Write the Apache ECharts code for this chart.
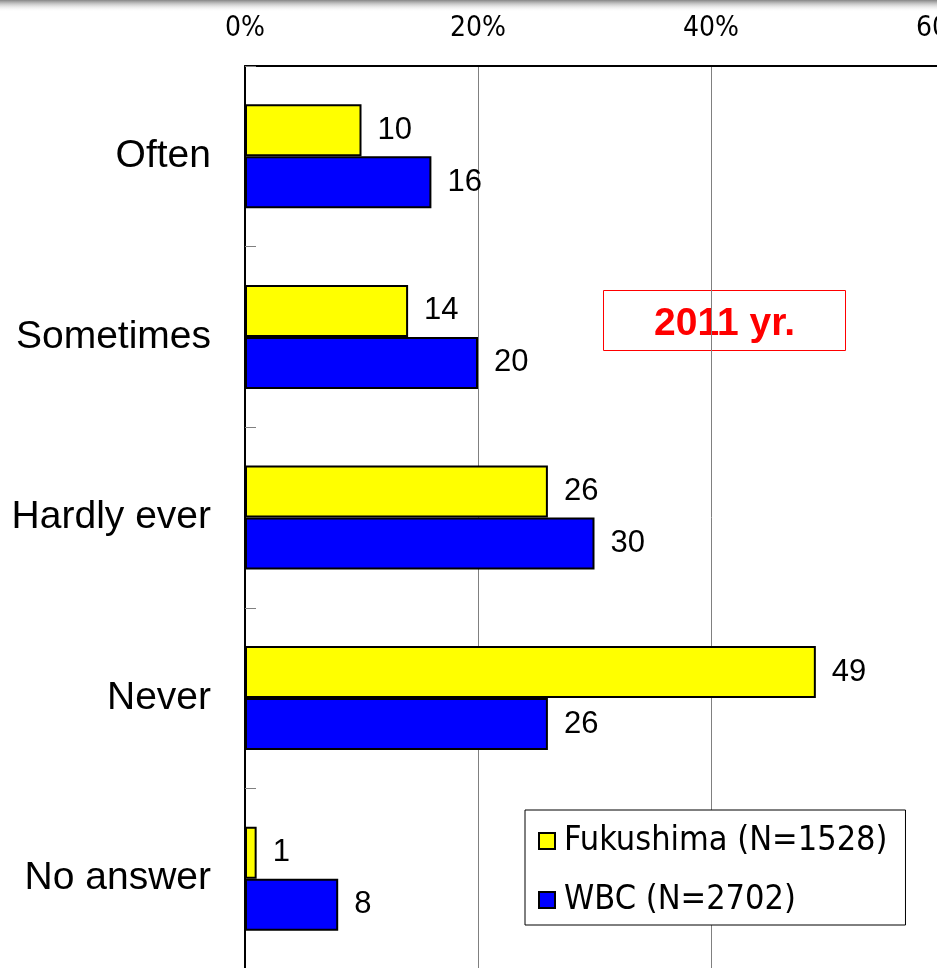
<!DOCTYPE html>
<html>
<head>
<meta charset="utf-8">
<script src="https://cdn.jsdelivr.net/npm/echarts@6/dist/echarts.min.js"></script>
<style>
html,body{margin:0;padding:0;background:#fff;}
#chart{width:937px;height:968px;}
</style>
</head>
<body>
<div id="chart"></div>
<script>
const categories = ['Often', 'Sometimes', 'Hardly ever', 'Never', 'No answer'];
const fukushimaValues = [10, 14, 26, 49, 1];
const wbcValues = [16, 20, 30, 26, 8];
const seriesNames = ['Fukushima (N=1528)', 'WBC (N=2702)'];
const xTicks = [0, 20, 40, 60];
const yearLabel = '2011 yr.';

const sans = "'Liberation Sans', Arial, sans-serif";
const narrow = "'Liberation Sans Narrow', 'Arial Narrow', 'DejaVu Sans Condensed', sans-serif";

const chart = echarts.init(document.getElementById('chart'), null, {renderer: 'canvas'});
const option = {
  backgroundColor: '#fff',
  animation: false,
  grid: {left: 245, top: 66, width: 699, height: 903, containLabel: false, outerBoundsMode: 'none'},
  xAxis: {
    type: 'value', position: 'top',
    min: xTicks[0], max: xTicks[xTicks.length - 1], interval: 20,
    axisLine: {show: true, lineStyle: {color: '#000', width: 2}},
    axisTick: {show: false},
    axisLabel: {formatter: '{value}%', fontFamily: narrow, fontSize: 28, color: '#000', margin: 23},
    splitLine: {show: true, lineStyle: {color: '#808080', width: 1}}
  },
  yAxis: {
    type: 'category', inverse: true, data: categories,
    axisLine: {show: true, lineStyle: {color: '#000', width: 2}},
    axisTick: {show: true, inside: true, length: 11, lineStyle: {color: '#808080', width: 1}},
    axisLabel: {fontFamily: sans, fontSize: 39, color: '#000', margin: 34, padding: [6, 0, 0, 0]}
  },
  legend: {
    orient: 'vertical', left: 525, top: 810,
    padding: [14, 18, 8, 13], itemGap: 25,
    itemWidth: 16, itemHeight: 16,
    backgroundColor: '#fff', borderColor: '#000', borderWidth: 1, borderRadius: 0,
    textStyle: {fontFamily: narrow, fontSize: 34, color: '#000', padding: [0, 0, 0, 4]},
    data: seriesNames.map(n => ({name: n, icon: 'rect'}))
  },
  series: [
    {
      name: seriesNames[0], type: 'bar', data: fukushimaValues,
      barWidth: 52, barGap: '0%',
      itemStyle: {color: '#ffff00', borderColor: '#000', borderWidth: 2},
      label: {show: true, position: 'right', distance: 16, fontFamily: sans, fontSize: 31, color: '#000'},
      z: 3
    },
    {
      name: seriesNames[1], type: 'bar', data: wbcValues,
      barWidth: 52, barGap: '0%',
      itemStyle: {color: '#0000ff', borderColor: '#000', borderWidth: 2},
      label: {show: true, position: 'right', distance: 16, fontFamily: sans, fontSize: 31, color: '#000'},
      z: 3
    }
  ],
  graphic: [
    {
      type: 'rect', left: 0, top: 0, z: 100, silent: true,
      shape: {width: 937, height: 12},
      style: {fill: new echarts.graphic.LinearGradient(0, 0, 0, 1, [
        {offset: 0, color: 'rgba(120,120,120,0.9)'},
        {offset: 1, color: 'rgba(255,255,255,0)'}
      ])}
    },
    {
      type: 'group', left: 603, top: 290, z: 50,
      children: [
        {type: 'rect', shape: {x: 0, y: 0, width: 242, height: 60}, style: {fill: '#fff', stroke: '#ff0000', lineWidth: 1}},
        {type: 'text', x: 121, y: 34, style: {text: yearLabel, fill: '#ff0000', font: "bold 39px 'Liberation Sans', Arial, sans-serif", align: 'center', verticalAlign: 'middle'}}
      ]
    }
  ]
};
chart.setOption(option);
</script>
</body>
</html>
